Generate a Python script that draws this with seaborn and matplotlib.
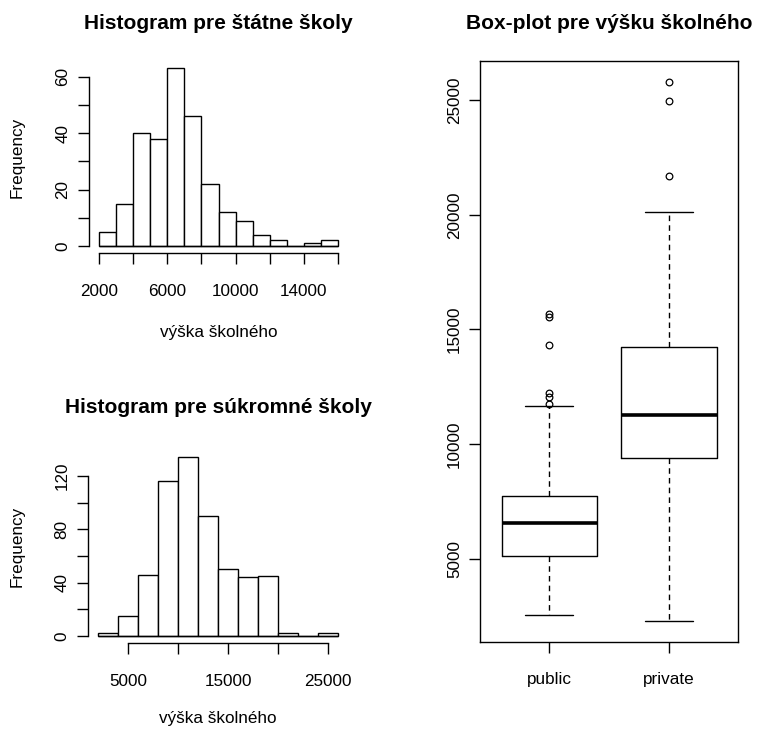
import matplotlib
matplotlib.use("Agg")
import matplotlib.pyplot as plt
import seaborn as sns
import numpy as np

# ---------------- data ----------------
public_bin_edges = [2000, 3000, 4000, 5000, 6000, 7000, 8000, 9000, 10000,
                    11000, 12000, 13000, 14000, 15000, 16000]
public_counts = [5, 15, 40, 38, 63, 46, 22, 12, 9, 4, 2, 0, 1, 2]

private_bin_edges = [2000, 4000, 6000, 8000, 10000, 12000, 14000, 16000,
                     18000, 20000, 22000, 24000, 26000]
private_counts = [2, 15, 46, 116, 134, 90, 50, 44, 45, 2, 0, 2]

box_groups = ["public", "private"]
box_whislo = [2550, 2302]
box_q1 = [5117, 9382]
box_med = [6584, 11267]
box_q3 = [7742, 14226]
box_whishi = [11658, 20118]
box_fliers = [[11763, 12037, 12211, 14344, 15549, 15693],
              [21698, 24963, 25777]]

title_public = "Histogram pre štátne školy"
title_private = "Histogram pre súkromné školy"
title_box = "Box-plot pre výšku školného"
xlabel_hist = "výška školného"
ylabel_hist = "Frequency"

public_xticks = [2000, 4000, 6000, 8000, 10000, 12000, 14000, 16000]
public_xticklabels = ["2000", "", "6000", "", "10000", "", "14000", ""]
public_yticks = [0, 10, 20, 30, 40, 50, 60]
public_yticklabels = ["0", "", "20", "", "40", "", "60"]

private_xticks = [5000, 10000, 15000, 20000, 25000]
private_xticklabels = ["5000", "", "15000", "", "25000"]
private_yticks = [0, 20, 40, 60, 80, 100, 120]
private_yticklabels = ["0", "", "40", "", "80", "", "120"]

box_yticks = [5000, 10000, 15000, 20000, 25000]

# ---------------- style ----------------
sns.set_style("ticks")
plt.rcParams["font.family"] = ["Liberation Sans", "DejaVu Sans"]
plt.rcParams.update({
    "axes.edgecolor": "black",
    "xtick.color": "black",
    "ytick.color": "black",
    "text.color": "black",
    "axes.labelcolor": "black",
    "axes.linewidth": 1.0,
})

W, H = 758, 731
fig = plt.figure(figsize=(W / 100, H / 100), dpi=100)

TICK_FS = 12.3
TITLE_FS = 15


def rect(l, r, t, b):
    return [l / W, 1 - b / H, (r - l) / W, (b - t) / H]


def style_axis(ax, xpad=14.5, ypad=6.0):
    ax.tick_params(axis="both", direction="out", length=7.7, width=1.0,
                   labelsize=TICK_FS, bottom=True, left=True)
    ax.tick_params(axis="x", pad=xpad)
    ax.tick_params(axis="y", pad=ypad)
    for lab in ax.get_yticklabels():
        lab.set_rotation(90)
        lab.set_va("center")


def draw_hist(ax, pos, edges, counts, title, xt, xtl, yt, ytl, title_base, xlab_base):
    l, r, t, b = pos
    mids = [(edges[i] + edges[i + 1]) / 2 for i in range(len(counts))]
    sns.histplot(x=mids, weights=counts, bins=edges, ax=ax, stat="count",
                 color="white", edgecolor="black", linewidth=1.0, alpha=1)
    # zero-height bins are drawn as a line along the base, as in R
    ax.hlines(0, edges[0], edges[-1], colors="black", linewidth=1.0, zorder=3)
    xr = edges[-1] - edges[0]
    ax.set_xlim(edges[0] - 0.04 * xr, edges[-1] + 0.04 * xr)
    ym = max(counts)
    ax.set_ylim(-0.04 * ym, 1.04 * ym)
    ax.set_xticks(xt)
    ax.set_xticklabels(xtl)
    ax.set_yticks(yt)
    ax.set_yticklabels(ytl)
    sns.despine(ax=ax)
    ax.spines["bottom"].set_bounds(xt[0], xt[-1])
    ax.spines["left"].set_bounds(yt[0], yt[-1])
    style_axis(ax)
    ax.set_xlabel(xlabel_hist, fontsize=TICK_FS)
    ax.xaxis.label.set_va("baseline")
    ax.xaxis.set_label_coords(0.5, (b - xlab_base) / (b - t))
    ax.set_ylabel(ylabel_hist, fontsize=TICK_FS)
    ax.yaxis.label.set_va("baseline")
    ax.yaxis.set_label_coords((22 - l) / (r - l), 0.5)
    ax.set_title(title, fontsize=TITLE_FS, fontweight="bold",
                 y=1 + (t - title_base) / (b - t), pad=0)


pos_pub = (89.4, 347.6, 61.2, 253.1)
ax1 = fig.add_axes(rect(*pos_pub))
draw_hist(ax1, pos_pub, public_bin_edges, public_counts, title_public,
          public_xticks, public_xticklabels, public_yticks, public_yticklabels,
          29.3, 337.0)

pos_pri = (88.4, 347.6, 450.2, 643.1)
ax2 = fig.add_axes(rect(*pos_pri))
draw_hist(ax2, pos_pri, private_bin_edges, private_counts, title_private,
          private_xticks, private_xticklabels, private_yticks, private_yticklabels,
          413.3, 723.0)

# ---------------- box plot ----------------
pos_box = (480, 738.3, 60.7, 642.3)
ax3 = fig.add_axes(rect(*pos_box))
stats = []
for i, g in enumerate(box_groups):
    stats.append({"label": g, "whislo": box_whislo[i], "q1": box_q1[i],
                  "med": box_med[i], "q3": box_q3[i], "whishi": box_whishi[i],
                  "fliers": box_fliers[i]})
positions = [1, 2]
ax3.bxp(stats, positions=positions, widths=0.8, capwidths=0.4,
        boxprops=dict(color="black", linewidth=1.0),
        medianprops=dict(color="black", linewidth=2.6, solid_capstyle="butt"),
        whiskerprops=dict(color="black", linewidth=1.0, linestyle=(0, (4, 3))),
        capprops=dict(color="black", linewidth=1.0),
        flierprops=dict(marker="o", markersize=4.8, markerfacecolor="none",
                        markeredgecolor="black", markeredgewidth=0.9,
                        linestyle="none"))
all_vals = box_whislo + box_whishi + [v for f in box_fliers for v in f]
lo, hi = min(all_vals), max(all_vals)
ax3.set_ylim(lo - 0.04 * (hi - lo), hi + 0.04 * (hi - lo))
ax3.set_xlim(0.5 - 0.08, 2.5 + 0.08)
ax3.set_xticks(positions)
ax3.set_xticklabels(box_groups)
ax3.set_yticks(box_yticks)
ax3.set_yticklabels([str(v) for v in box_yticks])
for s in ax3.spines.values():
    s.set_visible(True)
    s.set_linewidth(1.0)
style_axis(ax3, xpad=14.0, ypad=5.4)
l, r, t, b = pos_box
ax3.set_title(title_box, fontsize=TITLE_FS, fontweight="bold",
              y=1 + (t - 29.3) / (b - t), pad=0)

fig.savefig("out.png", dpi=100, facecolor="white")
